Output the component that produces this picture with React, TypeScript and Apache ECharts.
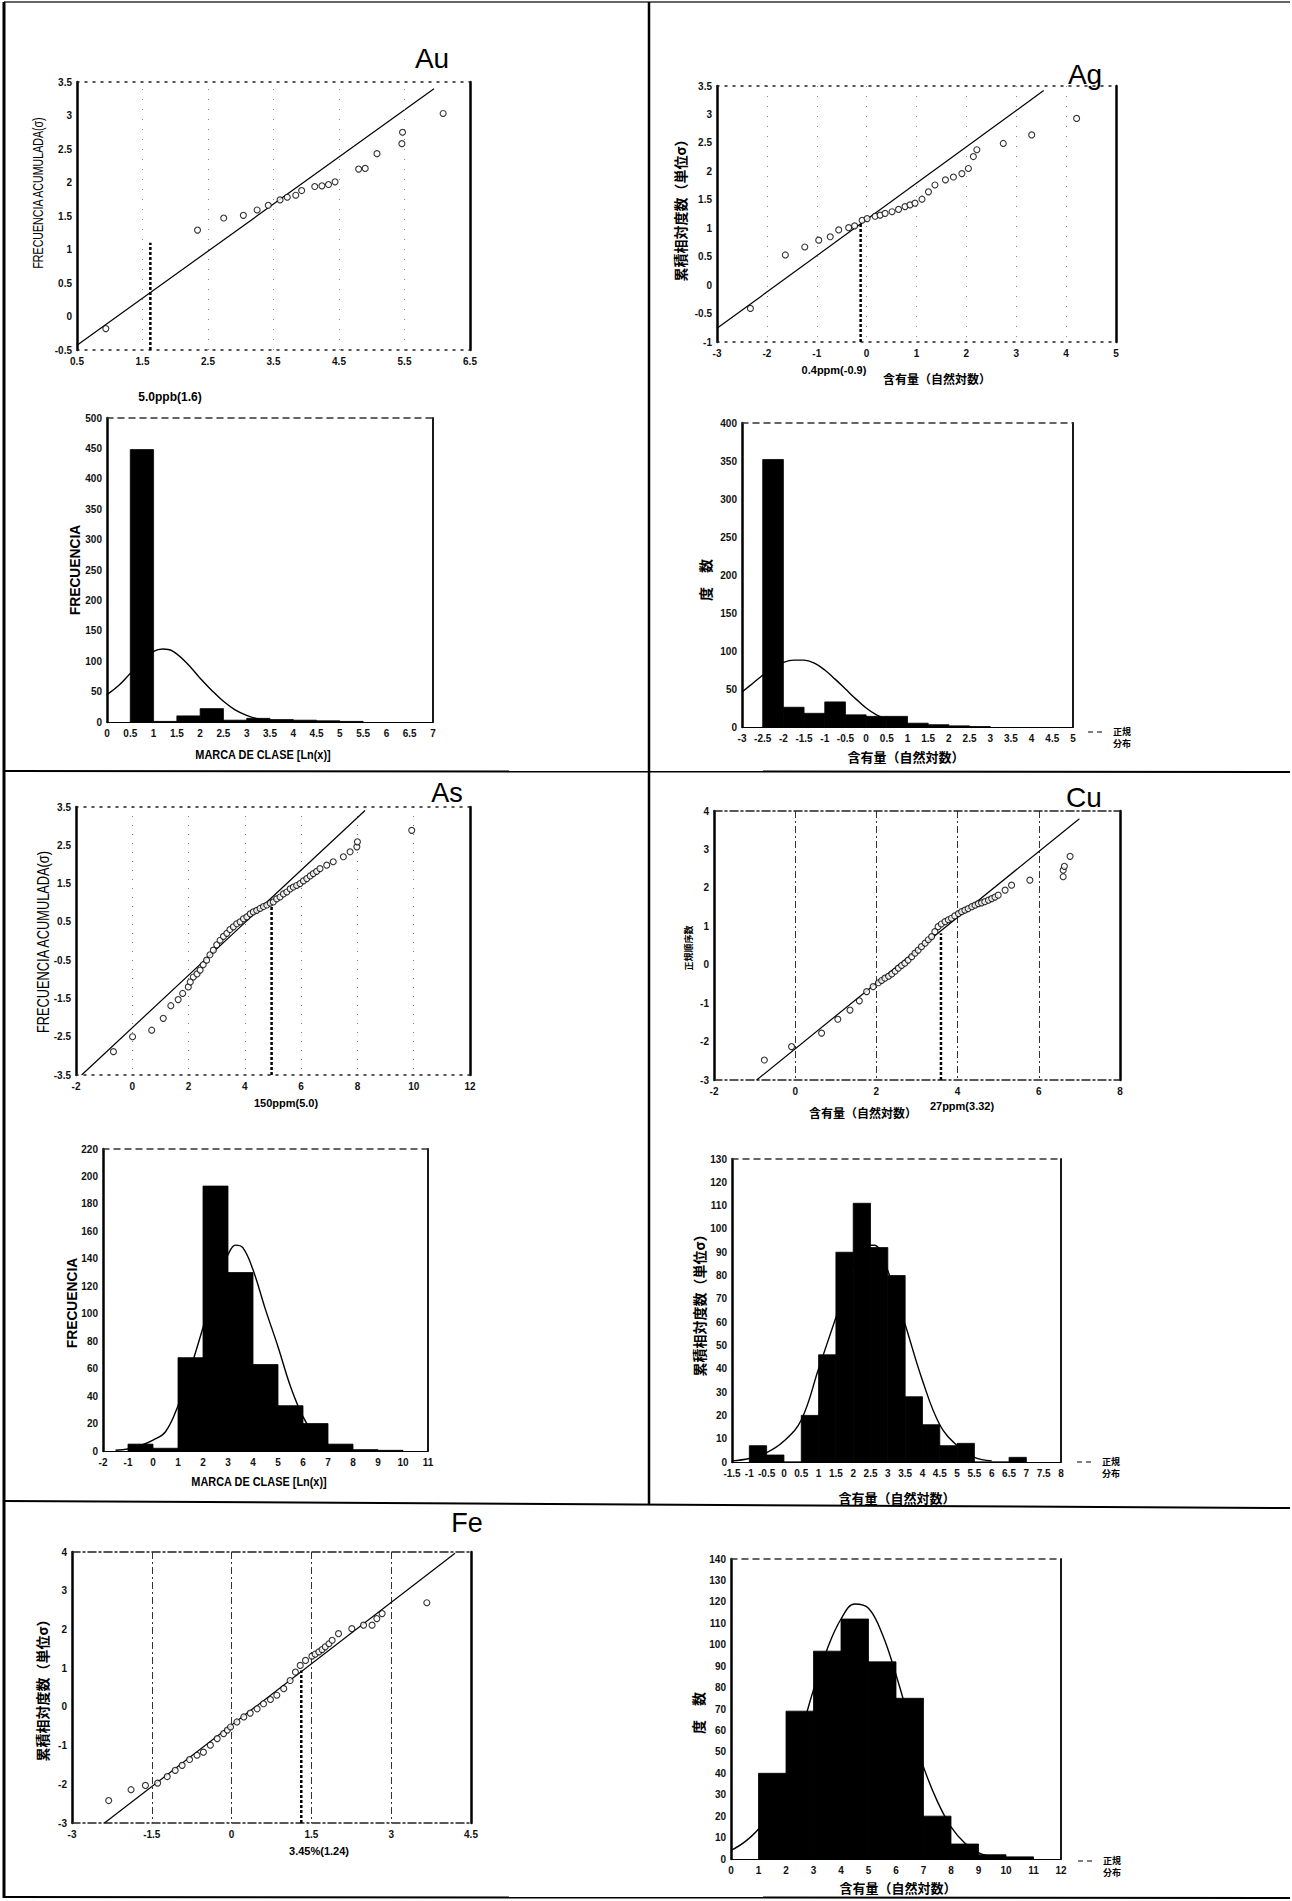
import React, { useEffect, useRef } from "react";
import * as echarts from "echarts";

// ================= DATA =================
// ---- Au ----
const auProbPoints = [
  [0.94, -0.18], [2.34, 1.29], [2.74, 1.47], [3.04, 1.51], [3.25, 1.59], [3.42, 1.66],
  [3.6, 1.74], [3.71, 1.78], [3.84, 1.81], [3.93, 1.88], [4.13, 1.94], [4.24, 1.95],
  [4.34, 1.97], [4.44, 2.01], [4.8, 2.2], [4.9, 2.21], [5.08, 2.43], [5.46, 2.58],
  [5.47, 2.75], [6.09, 3.03],
];
const auFitLine = [[0.5, -0.43], [5.95, 3.4]];
const auCutLine = [[1.62, -0.5], [1.62, 1.1]];
const auGridX = [1.5, 2.5, 3.5, 4.5, 5.5];
const auBinEdges = [0.5, 1, 1.5, 2, 2.5, 3, 3.5, 4, 4.5, 5, 5.5];
const auCounts = [448, 1, 10, 22, 3, 6, 4, 3, 2, 1];
const auCurveX = [0, 0.25, 0.5, 0.75, 1, 1.2, 1.4, 1.7, 2, 2.25, 2.5, 2.75, 3, 3.25, 3.5, 4];
const auCurveY = [45, 60, 80, 100, 116, 120, 117, 98, 72, 52, 34, 20, 11, 5, 2, 0.5];

// ---- Ag ----
const agProbPoints = [
  [-2.33, -0.41], [-1.63, 0.53], [-1.24, 0.67], [-0.96, 0.79], [-0.73, 0.85], [-0.56, 0.97],
  [-0.36, 1.01], [-0.24, 1.04], [-0.09, 1.14], [0.01, 1.17], [0.17, 1.21], [0.27, 1.23],
  [0.37, 1.26], [0.51, 1.29], [0.64, 1.33], [0.77, 1.38], [0.87, 1.41], [0.97, 1.44],
  [1.11, 1.51], [1.24, 1.64], [1.37, 1.76], [1.58, 1.85], [1.74, 1.9], [1.91, 1.96],
  [2.04, 2.05], [2.14, 2.26], [2.21, 2.38], [2.74, 2.49], [3.31, 2.64], [4.21, 2.93],
];
const agFitLine = [[-3, -0.76], [3.55, 3.42]];
const agCutLine = [[-0.12, -1], [-0.12, 1.11]];
const agBinEdges = [-2.5, -2, -1.5, -1, -0.5, 0, 0.5, 1, 1.5, 2, 2.5, 3];
const agCounts = [352, 26, 18, 33, 16, 14, 14, 5, 3, 1.5, 0.5];
const agCurveX = [-3, -2.75, -2.5, -2.25, -2, -1.75, -1.5, -1.25, -1, -0.75, -0.5, -0.25, 0, 0.25, 0.5, 0.75, 1, 1.5];
const agCurveY = [46, 57, 68, 78, 85, 88, 88, 84, 75, 63, 50, 37, 25, 16, 10, 6, 3, 1];

// ---- As ----
const asProbPoints = [
  [-0.67, -2.89], [0.01, -2.5], [0.69, -2.33], [1.1, -2.02], [1.37, -1.69], [1.63, -1.53],
  [1.79, -1.37], [1.99, -1.2], [2.06, -1.07], [2.17, -0.94], [2.3, -0.86], [2.41, -0.76],
  [2.52, -0.62], [2.64, -0.5], [2.76, -0.36], [2.88, -0.24], [3.0, -0.1], [3.12, 0.02],
  [3.24, 0.12], [3.36, 0.2], [3.47, 0.3], [3.59, 0.37], [3.71, 0.45], [3.83, 0.5],
  [3.95, 0.58], [4.07, 0.63], [4.19, 0.71], [4.3, 0.76], [4.42, 0.8], [4.54, 0.85],
  [4.66, 0.9], [4.78, 0.94], [4.9, 0.99], [5.01, 1.02], [5.13, 1.1], [5.25, 1.15],
  [5.37, 1.23], [5.49, 1.28], [5.61, 1.36], [5.72, 1.41], [5.84, 1.45], [5.96, 1.5],
  [6.08, 1.57], [6.2, 1.63], [6.32, 1.7], [6.43, 1.76], [6.55, 1.82], [6.67, 1.89],
  [6.91, 1.98], [7.14, 2.07], [7.5, 2.2], [7.74, 2.33], [7.98, 2.46], [8.0, 2.59],
  [9.93, 2.89],
];
const asFitLine = [[-1.8, -3.5], [8.27, 3.41]];
const asCutLine = [[4.95, -3.5], [4.95, 1.02]];
const asBinEdges = [-1, 0, 1, 2, 3, 4, 5, 6, 7, 8, 9, 10];
const asCounts = [5, 2, 68, 193, 130, 63, 33, 20, 5, 1, 0.5];
const asCurveX = [-1.5, -1, -0.5, 0, 0.5, 1, 1.5, 2, 2.5, 3, 3.3, 3.6, 4, 4.5, 5, 5.5, 6, 6.5, 7, 7.5];
const asCurveY = [0.5, 1.5, 4, 8, 14, 33, 60, 90, 122, 143, 150, 148, 132, 103, 76, 47, 25, 11, 4, 1];

// ---- Cu ----
const cuProbPoints = [
  [-0.76, -2.48], [-0.09, -2.13], [0.65, -1.78], [1.05, -1.42], [1.35, -1.18], [1.58, -0.94],
  [1.76, -0.7], [1.92, -0.57], [2.05, -0.47], [2.13, -0.41], [2.21, -0.35], [2.3, -0.3],
  [2.38, -0.24], [2.46, -0.17], [2.54, -0.09], [2.62, -0.02], [2.7, 0.04], [2.78, 0.12],
  [2.87, 0.21], [2.95, 0.3], [3.03, 0.38], [3.11, 0.47], [3.2, 0.56], [3.28, 0.65],
  [3.36, 0.73], [3.44, 0.86], [3.52, 0.99], [3.6, 1.06], [3.69, 1.12], [3.77, 1.17],
  [3.85, 1.21], [3.93, 1.27], [4.02, 1.33], [4.1, 1.38], [4.18, 1.42], [4.26, 1.46],
  [4.35, 1.51], [4.43, 1.55], [4.51, 1.59], [4.59, 1.61], [4.67, 1.64], [4.76, 1.68],
  [4.84, 1.72], [4.92, 1.76], [5.0, 1.81], [5.17, 1.94], [5.33, 2.07], [5.78, 2.2],
  [6.6, 2.29], [6.6, 2.46], [6.63, 2.56], [6.77, 2.82],
];
const cuFitLine = [[-0.95, -3], [7.0, 3.8]];
const cuCutLine = [[3.59, -3], [3.59, 0.82]];
const cuBinEdges = [-1, -0.5, 0, 0.5, 1, 1.5, 2, 2.5, 3, 3.5, 4, 4.5, 5, 5.5, 6, 6.5, 7];
const cuCounts = [7, 3, 0, 20, 46, 90, 111, 92, 80, 28, 16, 7, 8, 0, 0, 2];
const cuCurveX = [-1.5, -1, -0.5, 0, 0.5, 1, 1.5, 2, 2.3, 2.6, 3, 3.5, 4, 4.5, 5, 5.5, 6];
const cuCurveY = [0.5, 1.5, 4, 9, 18, 40, 62, 84, 93, 93, 82, 59, 35, 16, 7, 2, 0.5];

// ---- Fe ----
const feProbPoints = [
  [-2.31, -2.42], [-1.89, -2.14], [-1.62, -2.03], [-1.39, -1.97], [-1.21, -1.8], [-1.06, -1.64],
  [-0.93, -1.51], [-0.79, -1.36], [-0.65, -1.25], [-0.53, -1.17], [-0.4, -0.99], [-0.27, -0.82],
  [-0.15, -0.69], [-0.08, -0.6], [-0.02, -0.52], [0.1, -0.39], [0.23, -0.26], [0.35, -0.16],
  [0.48, -0.05], [0.6, 0.08], [0.73, 0.19], [0.85, 0.3], [0.98, 0.47], [1.1, 0.68],
  [1.2, 0.9], [1.29, 1.07], [1.39, 1.2], [1.51, 1.31], [1.57, 1.36], [1.64, 1.42],
  [1.7, 1.48], [1.76, 1.55], [1.83, 1.63], [1.89, 1.72], [2.01, 1.89], [2.26, 2.02],
  [2.48, 2.11], [2.64, 2.11], [2.73, 2.28], [2.83, 2.41], [3.67, 2.69],
];
const feFitLine = [[-2.39, -3], [4.2, 3.97]];
const feCutLine = [[1.31, -3], [1.31, 0.94]];
const feBinEdges = [1, 2, 3, 4, 5, 6, 7, 8, 9, 10, 11];
const feCounts = [40, 69, 97, 112, 92, 75, 20, 7, 2, 1];
const feCurveX = [0, 0.5, 1, 1.5, 2, 2.5, 3, 3.5, 4, 4.5, 5, 5.5, 6, 6.5, 7, 7.5, 8, 8.5, 9, 9.5, 10];
const feCurveY = [4, 8, 14, 24, 38, 57, 79, 98, 112, 119, 117, 105, 86, 64, 43, 27, 15, 7.5, 3, 1, 0.4];

// ================= STYLE / LAYOUT =================
const W = 1292;
const H = 1901;
const NARROW = "'Liberation Sans Narrow', 'Liberation Sans', sans-serif";
const SANS = "'Liberation Sans', Arial, sans-serif";
const CJK = "'Noto Sans CJK JP', 'Noto Sans CJK SC', sans-serif";

const halfFmt = (v: number) => (Math.abs(Math.round(v * 2)) % 2 === 1 ? String(v) : "");

type AxisSpec = { min: number; max: number; interval: number; half?: boolean };
type PanelSpec = {
  left: number; top: number; width: number; height: number;
  x: AxisSpec; y: AxisSpec; frame: "dot" | "dashdot" | "hist"; xSplit?: any;
};

const panels: PanelSpec[] = [
  { left: 77, top: 82, width: 393, height: 268, x: { min: 0.5, max: 6.5, interval: 0.5, half: true }, y: { min: -0.5, max: 3.5, interval: 0.5 }, frame: "dot" },
  { left: 717, top: 86, width: 399, height: 256, x: { min: -3, max: 5, interval: 1 }, y: { min: -1, max: 3.5, interval: 0.5 }, frame: "dot", xSplit: { type: [1, 9], color: "#888", width: 1 } },
  { left: 107, top: 418, width: 326, height: 304, x: { min: 0, max: 7, interval: 0.5 }, y: { min: 0, max: 500, interval: 50 }, frame: "hist" },
  { left: 742, top: 423, width: 331, height: 304, x: { min: -3, max: 5, interval: 0.5 }, y: { min: 0, max: 400, interval: 50 }, frame: "hist" },
  { left: 76, top: 807, width: 394, height: 268, x: { min: -2, max: 12, interval: 2 }, y: { min: -3.5, max: 3.5, interval: 0.5, half: true }, frame: "dot", xSplit: { type: [1, 8], color: "#777", width: 1 } },
  { left: 714, top: 811, width: 406, height: 269, x: { min: -2, max: 8, interval: 2 }, y: { min: -3, max: 4, interval: 1 }, frame: "dashdot", xSplit: { type: [7, 3, 2, 3], color: "#333", width: 1 } },
  { left: 103, top: 1149, width: 325, height: 302, x: { min: -2, max: 11, interval: 1 }, y: { min: 0, max: 220, interval: 20 }, frame: "hist" },
  { left: 732, top: 1159, width: 329, height: 303, x: { min: -1.5, max: 8, interval: 0.5 }, y: { min: 0, max: 130, interval: 10 }, frame: "hist" },
  { left: 72, top: 1552, width: 399, height: 271, x: { min: -3, max: 4.5, interval: 1.5 }, y: { min: -3, max: 4, interval: 1 }, frame: "dashdot", xSplit: { type: [7, 3, 2, 3], color: "#333", width: 1 } },
  { left: 731, top: 1559, width: 330, height: 300, x: { min: 0, max: 12, interval: 1 }, y: { min: 0, max: 140, interval: 10 }, frame: "hist" },
];

const tickLabel = { fontFamily: NARROW, fontSize: 10, fontWeight: "bold" as const, color: "#111" };

function buildAxes() {
  const xAxis: any[] = [];
  const yAxis: any[] = [];
  panels.forEach((p, gi) => {
    const side = { show: true, onZero: false, lineStyle: { color: "#000", width: 2.5, type: "solid" } };
    let tb: any;
    let bottom: any;
    let right: any = side;
    if (p.frame === "dot") {
      tb = { show: true, onZero: false, lineStyle: { color: "#222", width: 1.5, type: [2, 6] } };
      bottom = tb;
    } else if (p.frame === "dashdot") {
      tb = { show: true, onZero: false, lineStyle: { color: "#222", width: 1.5, type: [8, 3, 2, 3] } };
      bottom = tb;
    } else {
      tb = { show: true, onZero: false, lineStyle: { color: "#333", width: 1.5, type: [6, 5] } };
      bottom = { show: true, onZero: false, lineStyle: { color: "#000", width: 1.2, type: "solid" } };
      right = { show: true, onZero: false, lineStyle: { color: "#000", width: 1.8, type: "solid" } };
    }
    xAxis.push({
      type: "value", gridIndex: gi, position: "bottom", min: p.x.min, max: p.x.max, interval: p.x.interval,
      axisLine: bottom, axisTick: { show: false },
      axisLabel: { ...tickLabel, margin: 6, hideOverlap: false, showMinLabel: true, showMaxLabel: true, formatter: p.x.half ? halfFmt : undefined },
      splitLine: p.xSplit ? { show: true, lineStyle: p.xSplit } : { show: false },
    });
    xAxis.push({
      type: "value", gridIndex: gi, position: "top", min: p.x.min, max: p.x.max,
      axisLine: tb, axisTick: { show: false }, axisLabel: { show: false }, splitLine: { show: false },
    });
    yAxis.push({
      type: "value", gridIndex: gi, position: "left", min: p.y.min, max: p.y.max, interval: p.y.interval,
      axisLine: side, axisTick: { show: false },
      axisLabel: { ...tickLabel, margin: 5, hideOverlap: false, showMinLabel: true, showMaxLabel: true, formatter: p.y.half ? halfFmt : undefined },
      splitLine: { show: false },
    });
    yAxis.push({
      type: "value", gridIndex: gi, position: "right", min: p.y.min, max: p.y.max,
      axisLine: right, axisTick: { show: false }, axisLabel: { show: false }, splitLine: { show: false },
    });
  });
  return { xAxis, yAxis };
}

// ---- series helpers ----
const ax = (gi: number) => ({ xAxisIndex: 2 * gi, yAxisIndex: 2 * gi });
const scatterS = (gi: number, data: number[][]) => ({
  type: "scatter", ...ax(gi), data, symbol: "circle", symbolSize: 6,
  itemStyle: { color: "#fff", borderColor: "#000", borderWidth: 1.1 }, z: 5, silent: true,
});
const lineS = (gi: number, data: number[][], extra: any = {}) => ({
  type: "line", ...ax(gi), data, symbol: "none", showSymbol: false,
  lineStyle: { color: "#000", width: 1.2 }, z: 3, silent: true, ...extra,
});
const cutS = (gi: number, data: number[][]) => lineS(gi, data, { lineStyle: { color: "#000", width: 2.5, type: [3, 2] }, z: 4 });
const barsS = (gi: number, edges: number[], counts: number[]) => ({
  type: "custom", ...ax(gi), silent: true, clip: true, z: 2,
  encode: { x: [0, 1], y: 2 },
  data: edges.slice(0, -1).map((e, i) => [e, edges[i + 1], counts[i]]),
  renderItem: (_params: any, api: any) => {
    const a = api.coord([api.value(0), api.value(2)]);
    const b = api.coord([api.value(1), 0]);
    return {
      type: "rect",
      shape: { x: a[0], y: a[1], width: b[0] - a[0], height: b[1] - a[1] },
      style: { fill: "#000", stroke: "#000", lineWidth: 0.8 },
    };
  },
});
const curveS = (gi: number, xs: number[], ys: number[]) =>
  lineS(gi, xs.map((x, i) => [x, ys[i]]), { smooth: 0.4, lineStyle: { color: "#000", width: 1.4 }, z: 3 });

function buildSeries() {
  return [
    // Au probability
    lineS(0, auFitLine, {
      markLine: { silent: true, symbol: "none", label: { show: false }, lineStyle: { type: [1, 9], color: "#888", width: 1 }, data: auGridX.map((v) => ({ xAxis: v })) },
    }),
    cutS(0, auCutLine), scatterS(0, auProbPoints),
    // Ag probability
    lineS(1, agFitLine), cutS(1, agCutLine), scatterS(1, agProbPoints),
    // Au histogram
    barsS(2, auBinEdges, auCounts), curveS(2, auCurveX, auCurveY),
    // Ag histogram
    barsS(3, agBinEdges, agCounts), curveS(3, agCurveX, agCurveY),
    // As probability
    lineS(4, asFitLine), cutS(4, asCutLine), scatterS(4, asProbPoints),
    // Cu probability
    lineS(5, cuFitLine), cutS(5, cuCutLine), scatterS(5, cuProbPoints),
    // As histogram
    barsS(6, asBinEdges, asCounts), curveS(6, asCurveX, asCurveY),
    // Cu histogram
    barsS(7, cuBinEdges, cuCounts), curveS(7, cuCurveX, cuCurveY),
    // Fe probability
    lineS(8, feFitLine), cutS(8, feCutLine), scatterS(8, feProbPoints),
    // Fe histogram
    barsS(9, feBinEdges, feCounts), curveS(9, feCurveX, feCurveY),
  ];
}

// ---- graphic helpers ----
const txt = (x: number, y: number, text: string, font: string, rot = 0, align = "center", sx = 1) => ({
  type: "text", x, y, rotation: rot, scaleX: sx, silent: true,
  style: { text, fill: "#000", font, align, verticalAlign: "middle", textAlign: align, textVerticalAlign: "middle" },
});
const ln = (x1: number, y1: number, x2: number, y2: number, w: number, dash?: number[], color = "#000") => ({
  type: "line", silent: true, shape: { x1, y1, x2, y2 },
  style: { stroke: color, lineWidth: w, lineDash: dash },
});
const R = Math.PI / 2;
const legend = (x: number, y: number) => [
  ln(x, y, x + 17, y, 1.2, [5, 4]),
  txt(x + 25, y - 1, "正規", `bold 9px ${CJK}`, 0, "left"),
  txt(x + 25, y + 11, "分布", `bold 9px ${CJK}`, 0, "left"),
];

function buildGraphic() {
  const probY = "累積相対度数（単位σ）";
  const contentX = "含有量（自然対数）";
  return [
    // frame
    ln(4, 2, 1290, 2, 1.5, undefined, "#333"),
    ln(4, 2, 4, 1898, 3),
    ln(649, 2, 649, 1504, 2.5),
    ln(4, 771, 1290, 772, 2),
    ln(4, 1501, 1290, 1508, 2),
    ln(4, 1897, 1290, 1898, 2),
    // titles
    txt(432, 58, "Au", `28px ${SANS}`),
    txt(1085, 74, "Ag", `28px ${SANS}`),
    txt(447, 793, "As", `27px ${SANS}`),
    txt(1084, 797, "Cu", `28px ${SANS}`),
    txt(467, 1523, "Fe", `27px ${SANS}`),
    // Au probability
    txt(38, 193, "FRECUENCIA ACUMULADA(σ)", `14px ${NARROW}`, R, "center", 0.76),
    txt(170, 397, "5.0ppb(1.6)", `bold 12px ${NARROW}`),
    // Ag probability
    txt(680, 207, probY, `bold 14px ${CJK}`, R),
    txt(834, 370, "0.4ppm(-0.9)", `bold 11px ${NARROW}`),
    txt(937, 378, contentX, `bold 12px ${CJK}`),
    // Au histogram
    txt(75, 570, "FRECUENCIA", `bold 15px ${NARROW}`, R, "center", 0.92),
    txt(263, 755, "MARCA DE CLASE [Ln(x)]", `bold 13px ${NARROW}`, 0, "center", 0.84),
    // Ag histogram
    txt(705, 580, "度　数", `bold 14px ${CJK}`, R),
    txt(906, 756, contentX, `bold 13px ${CJK}`),
    ...legend(1088, 732),
    // As probability
    txt(43, 942, "FRECUENCIA ACUMULADA(σ)", `16px ${NARROW}`, R, "center", 0.8),
    txt(286, 1103, "150ppm(5.0)", `bold 11px ${NARROW}`),
    // Cu probability
    txt(688, 948, "正規順序数", `bold 9px ${CJK}`, R),
    txt(863, 1112, contentX, `bold 12px ${CJK}`),
    txt(962, 1106, "27ppm(3.32)", `bold 11px ${NARROW}`),
    // As histogram
    txt(72, 1303, "FRECUENCIA", `bold 15px ${NARROW}`, R, "center", 0.92),
    txt(259, 1482, "MARCA DE CLASE [Ln(x)]", `bold 13px ${NARROW}`, 0, "center", 0.84),
    // Cu histogram
    txt(699, 1302, probY, `bold 14px ${CJK}`, R),
    txt(897, 1497, contentX, `bold 13px ${CJK}`),
    ...legend(1077, 1462),
    // Fe probability
    txt(42, 1687, probY, `bold 14px ${CJK}`, R),
    txt(319, 1851, "3.45%(1.24)", `bold 11px ${NARROW}`),
    // Fe histogram
    txt(698, 1713, "度　数", `bold 14px ${CJK}`, R),
    txt(898, 1887, contentX, `bold 13px ${CJK}`),
    ...legend(1078, 1861),
  ];
}

function buildOption() {
  const { xAxis, yAxis } = buildAxes();
  return {
    animation: false,
    backgroundColor: "#fff",
    grid: panels.map((p) => ({
      left: p.left, top: p.top, width: p.width, height: p.height,
      containLabel: false, outerBoundsMode: "none", show: false,
    })),
    xAxis,
    yAxis,
    series: buildSeries(),
    graphic: { elements: buildGraphic() },
  };
}

export default function App() {
  const ref = useRef<HTMLDivElement>(null);
  useEffect(() => {
    document.body.style.margin = "0";
    if (!ref.current) return;
    const chart = echarts.init(ref.current, undefined, { renderer: "svg", width: W, height: H });
    chart.setOption(buildOption() as any);
    return () => chart.dispose();
  }, []);
  return <div ref={ref} style={{ width: W, height: H, background: "#fff" }} />;
}
